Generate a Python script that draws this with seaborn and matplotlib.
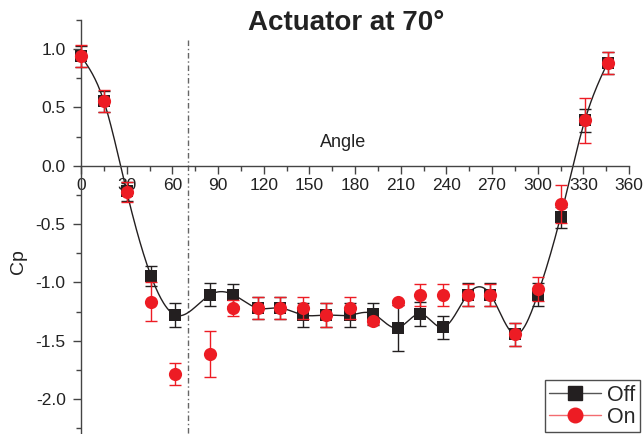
import numpy as np
import pandas as pd
import matplotlib
matplotlib.use("Agg")
import matplotlib.pyplot as plt
import seaborn as sns
from matplotlib.lines import Line2D
from matplotlib.ticker import MultipleLocator

# Pressure taps (deg) and Cp readings, actuator off / on
angle = [0, 15, 30, 46, 62, 85, 100, 116, 131, 146, 161, 177, 192, 208, 223, 238,
         254, 269, 285, 300, 315, 331, 346]
cp_off = [0.94, 0.555, -0.22, -0.945, -1.28, -1.105, -1.105, -1.22, -1.22, -1.28, -1.28,
          -1.28, -1.27, -1.39, -1.27, -1.385, -1.105, -1.105, -1.445, -1.105, -0.44, 0.39, 0.885]
err_off = [0.09, 0.09, 0.08, 0.085, 0.1, 0.097, 0.094, 0.097, 0.097, 0.1, 0.1, 0.1, 0.095,
           0.2, 0.1, 0.1, 0.097, 0.097, 0.097, 0.097, 0.09, 0.097, 0.094]
cp_on = [0.94, 0.555, -0.225, -1.165, -1.785, -1.612, -1.22, -1.22, -1.22, -1.22, -1.28,
         -1.22, -1.335, -1.17, -1.107, -1.107, -1.107, -1.107, -1.445, -1.056, -0.33, 0.39, 0.885]
err_on = [0.096, 0.094, 0.085, 0.167, 0.095, 0.196, 0.07, 0.097, 0.097, 0.097, 0.1, 0.097,
          0.02, 0.02, 0.096, 0.096, 0.097, 0.097, 0.097, 0.1, 0.163, 0.193, 0.094]
actuator = 70

df = pd.DataFrame({"angle": angle, "off": cp_off, "err_off": err_off,
                   "on": cp_on, "err_on": err_on})

BLACK = "#231f20"
RED = "#ed1c24"


def natural_spline(x, y, xs):
    # natural cubic spline through the Off points (smooth line like the original)
    x = np.asarray(x, float)
    y = np.asarray(y, float)
    n = len(x)
    h = np.diff(x)
    A = np.zeros((n, n))
    r = np.zeros(n)
    A[0, 0] = A[-1, -1] = 1
    for i in range(1, n - 1):
        A[i, i - 1] = h[i - 1]
        A[i, i] = 2 * (h[i - 1] + h[i])
        A[i, i + 1] = h[i]
        r[i] = 6 * ((y[i + 1] - y[i]) / h[i] - (y[i] - y[i - 1]) / h[i - 1])
    M = np.linalg.solve(A, r)
    idx = np.clip(np.searchsorted(x, xs) - 1, 0, n - 2)
    x0, x1 = x[idx], x[idx + 1]
    hh = x1 - x0
    t0, t1 = x1 - xs, xs - x0
    return (M[idx] * t0 ** 3 / (6 * hh) + M[idx + 1] * t1 ** 3 / (6 * hh)
            + (y[idx] / hh - M[idx] * hh / 6) * t0 + (y[idx + 1] / hh - M[idx + 1] * hh / 6) * t1)


sns.set_style("ticks")
plt.rcParams["font.family"] = ["Liberation Sans", "DejaVu Sans"]
plt.rcParams["axes.unicode_minus"] = False

fig = plt.figure(figsize=(6.44, 4.34), dpi=100)
ax = fig.add_axes([81 / 644, 0, 548 / 644, 414 / 434])

# smooth curve through Off data
xs = np.linspace(min(angle), max(angle), 600)
sns.lineplot(x=xs, y=natural_spline(angle, cp_off, xs), ax=ax, color=BLACK, lw=1.0,
             estimator=None, sort=False)

# actuator position
ax.plot([actuator, actuator], [1.08, -2.3], color="#666666", lw=1.0,
        dashes=(4, 2, 1, 2), zorder=1)

ax.errorbar(df["angle"], df["off"], yerr=df["err_off"], fmt="none", ecolor=BLACK,
            elinewidth=1.0, capsize=4, capthick=1.0, zorder=3, clip_on=False)
sns.scatterplot(data=df, x="angle", y="off", ax=ax, marker="s", s=80, color=BLACK,
                edgecolor=BLACK, linewidth=0, zorder=4, clip_on=False)
ax.errorbar(df["angle"], df["on"], yerr=df["err_on"], fmt="none", ecolor=RED,
            elinewidth=1.0, capsize=4, capthick=1.0, zorder=5, clip_on=False)
sns.scatterplot(data=df, x="angle", y="on", ax=ax, marker="o", s=90, color=RED,
                edgecolor=RED, linewidth=0, zorder=6, clip_on=False)

ax.set_xlim(0, 360)
ax.set_ylim(-2.3, 1.25)
ax.set_xlabel("")
ax.set_ylabel("")
ax.spines["bottom"].set_position(("data", 0))
ax.spines["top"].set_visible(False)
ax.spines["right"].set_visible(False)
for s in ("left", "bottom"):
    ax.spines[s].set_color("#444444")
    ax.spines[s].set_linewidth(1.0)

ax.xaxis.set_major_locator(MultipleLocator(30))
ax.xaxis.set_minor_locator(MultipleLocator(15))
ax.yaxis.set_major_locator(MultipleLocator(0.5))
ax.yaxis.set_minor_locator(MultipleLocator(0.25))
ax.yaxis.set_major_formatter(matplotlib.ticker.FormatStrFormatter("%.1f"))
ax.tick_params(which="major", direction="out", length=6, width=1.0, color="#444444",
               labelsize=12.5, labelcolor="#222222", pad=3)
ax.tick_params(which="minor", direction="out", length=3.5, width=1.0, color="#444444")
ax.tick_params(axis="y", which="major", pad=5)

ax.text(172, 0.2, "Angle", ha="center", va="center", fontsize=13, color="#222222")
fig.text(18 / 644, 1 - 262 / 434, "Cp", rotation=90, ha="center", va="center",
         fontsize=14, color="#222222")
fig.text(0.537, 1 - 29.5 / 434, "Actuator at 70°", ha="center", va="baseline",
         fontsize=20, fontweight="bold", color="#222222")

handles = [
    Line2D([0], [0], color="#555555", lw=1.0, marker="s", markersize=10,
           markerfacecolor=BLACK, markeredgecolor=BLACK),
    Line2D([0], [0], color="#f36b70", lw=1.0, marker="o", markersize=10.5,
           markerfacecolor=RED, markeredgecolor=RED),
]
leg = fig.legend(handles, ["Off", "On"], loc="lower right",
                 bbox_to_anchor=(640 / 644, 2 / 434), fontsize=15.5, frameon=True,
                 fancybox=False, edgecolor="#222222", handlelength=2.4,
                 handletextpad=0.3, labelspacing=0.05, borderpad=0.2,
                 borderaxespad=0)
leg.get_frame().set_linewidth(1.0)

fig.savefig("out.png", dpi=100)
